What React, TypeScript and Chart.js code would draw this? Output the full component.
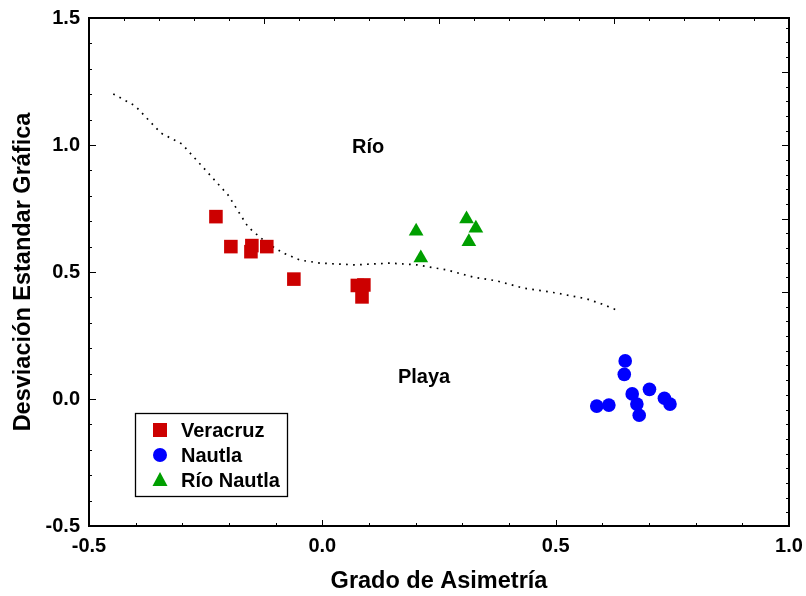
import { useEffect, useRef } from "react";
import { Chart, registerables } from "chart.js";

Chart.register(...registerables);

// Grain-size samples: skewness (x) vs graphic standard deviation (y)
const veracruzX = [-0.228, -0.196, -0.151, -0.153, -0.119, -0.061, 0.075, 0.089, 0.085];
const veracruzY = [0.718, 0.6, 0.604, 0.58, 0.6, 0.472, 0.447, 0.449, 0.402];

const nautlaX = [0.649, 0.647, 0.588, 0.614, 0.664, 0.701, 0.674, 0.679, 0.733, 0.745];
const nautlaY = [0.15, 0.097, -0.028, -0.024, 0.02, 0.038, -0.02, -0.064, 0.003, -0.02];

const rioNautlaX = [0.201, 0.211, 0.309, 0.329, 0.314];
const rioNautlaY = [0.66, 0.555, 0.709, 0.672, 0.619];

// River / beach discrimination boundary
const boundaryX = [-0.448, -0.401, -0.346, -0.301, -0.258, -0.202, -0.159, -0.119, -0.084, -0.048, -0.005, 0.07, 0.145, 0.203, 0.267, 0.323, 0.374, 0.43, 0.503, 0.567, 0.599, 0.631];
const boundaryY = [1.201, 1.154, 1.047, 1.004, 0.917, 0.803, 0.677, 0.614, 0.575, 0.547, 0.535, 0.528, 0.535, 0.528, 0.508, 0.48, 0.465, 0.437, 0.417, 0.394, 0.374, 0.35];

// Region annotations
const regionNames = ["Río", "Playa"];
const regionX = [0.098, 0.218];
const regionY = [0.992, 0.083];

const seriesNames = ["Veracruz", "Nautla", "Río Nautla"];
const seriesColors = ["#cc0000", "#0000ff", "#009f00"];

const xMin = -0.5;
const xMax = 1.0;
const yMin = -0.5;
const yMax = 1.5;
const majorStep = 0.5;
const minorStep = 0.1;

const FONT = "'Liberation Sans', Arial, Helvetica, sans-serif";

const toPoints = (xs: number[], ys: number[]) => xs.map((x, i) => ({ x, y: ys[i] }));

const framePlugin = {
  id: "frameAndNotes",
  afterDraw(chart: any) {
    const { ctx, chartArea: a, scales } = chart;
    const xs = scales.x;
    const ys = scales.y;
    ctx.save();
    ctx.strokeStyle = "#000";
    ctx.fillStyle = "#000";

    // inward ticks on bottom and left axes
    ctx.lineWidth = 1;
    const eps = 1e-6;
    for (let v = xMin; v <= xMax + eps; v += minorStep) {
      const isMajor = Math.abs(v / majorStep - Math.round(v / majorStep)) < 1e-3;
      const px = Math.round(xs.getPixelForValue(v)) + 0.5;
      const len = isMajor ? 6 : 3;
      ctx.beginPath();
      ctx.moveTo(px, a.bottom);
      ctx.lineTo(px, a.bottom - len);
      ctx.stroke();
    }
    for (let v = yMin; v <= yMax + eps; v += minorStep) {
      const isMajor = Math.abs(v / majorStep - Math.round(v / majorStep)) < 1e-3;
      const py = Math.round(ys.getPixelForValue(v)) + 0.5;
      const len = isMajor ? 7 : 3;
      ctx.beginPath();
      ctx.moveTo(a.left, py);
      ctx.lineTo(a.left + len, py);
      ctx.stroke();
    }
    // top axis ticks (independent division)
    const w = a.right - a.left;
    const h = a.bottom - a.top;
    for (let k = 1; k < 20; k++) {
      const px = Math.round(a.left + (w * k) / 20) + 0.5;
      const len = k % 5 === 0 ? 6 : 3;
      ctx.beginPath();
      ctx.moveTo(px, a.top);
      ctx.lineTo(px, a.top + len);
      ctx.stroke();
    }
    // right axis ticks (independent division)
    const rMajor = 0.1445;
    const rStart = 0.106;
    for (let k = -3; k < 40; k++) {
      const f = rStart + (rMajor * k) / 5;
      if (f <= 0.005 || f >= 0.995) continue;
      const py = Math.round(a.top + f * h) + 0.5;
      const isMajor = k % 5 === 0 && k >= 0 && k <= 15;
      const len = isMajor ? 7 : 3;
      ctx.beginPath();
      ctx.moveTo(a.right, py);
      ctx.lineTo(a.right - len, py);
      ctx.stroke();
    }

    // frame
    ctx.lineWidth = 2;
    ctx.strokeRect(a.left, a.top, w, h);

    // region labels
    ctx.font = `bold 20px ${FONT}`;
    ctx.textAlign = "center";
    ctx.textBaseline = "middle";
    regionNames.forEach((name, i) => {
      ctx.fillText(name, xs.getPixelForValue(regionX[i]), ys.getPixelForValue(regionY[i]));
    });

    // legend
    const bx = a.left + 46;
    const by = a.top + 395;
    const bw = 152;
    const bh = 83;
    ctx.fillStyle = "#fff";
    ctx.fillRect(bx, by, bw, bh);
    ctx.lineWidth = 1.3;
    ctx.strokeStyle = "#000";
    ctx.strokeRect(bx + 0.5, by + 0.5, bw, bh);
    ctx.textAlign = "left";
    ctx.textBaseline = "middle";
    seriesNames.forEach((name, i) => {
      const cy = by + 17 + 25 * i;
      const cx = bx + 25;
      ctx.fillStyle = seriesColors[i];
      ctx.beginPath();
      if (i === 0) {
        ctx.rect(cx - 7, cy - 7, 14, 14);
      } else if (i === 1) {
        ctx.arc(cx, cy, 7, 0, Math.PI * 2);
      } else {
        ctx.moveTo(cx, cy - 8);
        ctx.lineTo(cx + 7.5, cy + 6);
        ctx.lineTo(cx - 7.5, cy + 6);
        ctx.closePath();
      }
      ctx.fill();
      ctx.fillStyle = "#000";
      ctx.fillText(name, bx + 46, cy + 1);
    });
    ctx.restore();
  },
};

export default function App() {
  const canvasRef = useRef<HTMLCanvasElement | null>(null);

  useEffect(() => {
    const canvas = canvasRef.current;
    if (!canvas) return;
    const tickFont = { family: FONT, size: 20, weight: "bold" as const };
    const titleFont = { family: FONT, size: 23.5, weight: "bold" as const };

    const chart = new Chart(canvas, {
      type: "scatter",
      data: {
        datasets: [
          {
            label: seriesNames[0],
            data: toPoints(veracruzX, veracruzY),
            pointStyle: "rect",
            pointRadius: 9.6,
            backgroundColor: seriesColors[0],
            borderColor: seriesColors[0],
            borderWidth: 0,
            order: 0,
          },
          {
            label: seriesNames[1],
            data: toPoints(nautlaX, nautlaY),
            pointStyle: "circle",
            pointRadius: 6.8,
            backgroundColor: seriesColors[1],
            borderColor: seriesColors[1],
            borderWidth: 0,
            order: 0,
          },
          {
            label: seriesNames[2],
            data: toPoints(rioNautlaX, rioNautlaY),
            pointStyle: "triangle",
            pointRadius: 8.5,
            backgroundColor: seriesColors[2],
            borderColor: seriesColors[2],
            borderWidth: 0,
            order: 0,
          },
          {
            label: "Límite",
            data: toPoints(boundaryX, boundaryY),
            showLine: true,
            pointRadius: 0,
            borderColor: "#000",
            borderWidth: 1.7,
            borderDash: [1.7, 5.3],
            tension: 0,
            fill: false,
            order: 1,
          } as any,
        ],
      },
      options: {
        animation: false,
        responsive: false,
        devicePixelRatio: 1,
        layout: { padding: { top: 18, right: 17, left: 0, bottom: 0 } },
        plugins: {
          legend: { display: false },
          tooltip: { enabled: false },
        },
        scales: {
          x: {
            type: "linear",
            min: xMin,
            max: xMax,
            border: { display: false },
            grid: { display: false, drawTicks: false },
            ticks: {
              stepSize: majorStep,
              padding: 8,
              color: "#000",
              font: tickFont,
              callback: (v: any) => Number(v).toFixed(1),
            },
            title: {
              display: true,
              text: "Grado de Asimetría",
              color: "#000",
              font: titleFont,
              padding: { top: 0, bottom: 0 },
            },
            afterFit: (s: any) => {
              s.height = 70;
              s.paddingLeft = 0;
              s.paddingRight = 0;
            },
          },
          y: {
            type: "linear",
            min: yMin,
            max: yMax,
            border: { display: false },
            grid: { display: false, drawTicks: false },
            ticks: {
              stepSize: majorStep,
              padding: 9,
              color: "#000",
              font: tickFont,
              callback: (v: any) => Number(v).toFixed(1),
            },
            title: {
              display: true,
              text: "Desviación Estandar Gráfica",
              color: "#000",
              font: titleFont,
              padding: { top: 9, bottom: 0 },
            },
            afterFit: (s: any) => {
              s.width = 89;
              s.paddingTop = 0;
              s.paddingBottom = 0;
            },
          },
        },
      },
      plugins: [framePlugin],
    });
    return () => chart.destroy();
  }, []);

  return (
    <div style={{ position: "absolute", left: 0, top: 0, width: 806, height: 596, background: "#fff" }}>
      <canvas ref={canvasRef} width={806} height={596} />
    </div>
  );
}
